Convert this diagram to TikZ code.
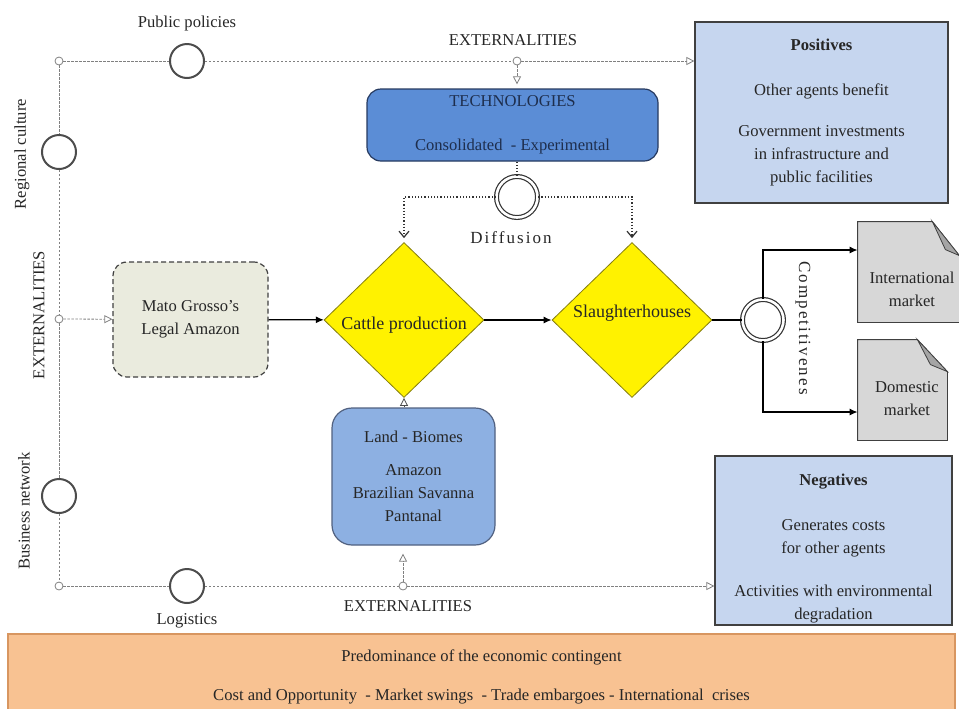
\documentclass[tikz,border=0pt]{standalone}
\usepackage{fontspec}
\setmainfont{Liberation Serif}
\usepackage{tikz}
\usetikzlibrary{shapes.geometric}
\usetikzlibrary{arrows.meta}
\definecolor{techblue}{RGB}{91,141,214}
\definecolor{techborder}{RGB}{38,58,96}
\definecolor{landblue}{RGB}{141,176,226}
\definecolor{panelblue}{RGB}{198,214,239}
\definecolor{matogray}{RGB}{234,235,222}
\definecolor{docgray}{RGB}{215,215,215}
\definecolor{foldgray}{RGB}{165,165,165}
\definecolor{contorange}{RGB}{248,194,146}
\definecolor{contborder}{RGB}{216,150,96}
\tikzstyle{junction}=[circle, draw=gray, fill=white, inner sep=0pt, minimum size=4pt]
\tikzstyle{actor}=[circle, draw=black!70, line width=1pt, fill=white, inner sep=0pt, minimum size=17pt]
\tikzstyle{gate}=[circle, draw=black!80, line width=0.6pt, double, double distance=1.3pt, fill=white, inner sep=0pt, minimum size=20.5pt]
\tikzstyle{decision}=[diamond, draw=olive!90!black, fill=yellow, inner sep=0pt, minimum width=80pt, minimum height=77.5pt, font=\fontsize{9}{11}\selectfont]
\tikzstyle{rbox}=[rectangle, rounded corners=7pt, draw=black!75, semithick, align=center]
\tikzstyle{panel}=[rectangle, draw=black!75, semithick, fill=panelblue, align=center]
\tikzstyle{doc}=[rectangle, inner sep=0pt]
\tikzstyle{extline}=[gray, dash pattern=on 1.2pt off 0.8pt]
\tikzstyle{extarrow}=[extline, -{Triangle[open, length=4pt, width=4pt]}]
\tikzstyle{diffline}=[black!80, densely dotted, semithick, -{Straight Barb[length=3pt, width=5pt]}]
\tikzstyle{flow}=[black, semithick, -{Latex[length=4pt, width=3.5pt]}]
\tikzstyle{spaced}=[font=\fontsize{8.5}{11}\selectfont\addfontfeature{LetterSpace=12}]

\begin{document}
\begin{tikzpicture}[x=0.5pt, y=-0.5pt, font=\fontsize{8.3}{11.5}\selectfont, text=black!85]
        \useasboundingbox (0,0) rectangle (959,708);

        % Puntos de union
        \foreach \j/\x/\y in {nw/59/61, w/59/319, sw/59/586, n/517/61, s/403/586}
            \node[junction] (\j) at (\x,\y) {};

        % Actores
        \foreach \a/\x/\y in {policy/187/61, culture/59/152, business/59/496, logistics/187/586}
            \node[actor] (\a) at (\x,\y) {};

        % Textos
        \node (policylbl) at (187,24) {Public policies};
        \node (logisticslbl) at (187,621) {Logistics};
        \node[rotate=90] (culturelbl) at (22,154) {Regional culture};
        \node[rotate=90] (businesslbl) at (24,511) {Business network};
        \node[rotate=90] (extwest) at (39,315) {EXTERNALITIES};
        \node (extnorth) at (513,40) {EXTERNALITIES};
        \node (extsouth) at (408,606) {EXTERNALITIES};

        % Cajas
        \node[rbox, fill=techblue, draw=techborder, text=techborder!80!black, minimum width=145.5pt, minimum height=36pt] (tech) at (512.5,125) {TECHNOLOGIES\\[10.5pt]Consolidated\ \ - Experimental};
        \node[rbox, fill=matogray, dash pattern=on 2.5pt off 1.5pt, minimum width=77.5pt, minimum height=57.5pt] (mato) at (190.5,319.5) {Mato Grosso's\\Legal Amazon};
        \node[rbox, fill=landblue, draw=techborder!80, rounded corners=10pt, minimum width=81.5pt, minimum height=68.5pt] (land) at (413.5,476.5) {Land - Biomes\\[5pt]Amazon\\Brazilian Savanna\\Pantanal};

        \node[decision] (cattle) at (404,320) {\raisebox{-4.5pt}[0pt][0pt]{Cattle production}};
        \node[decision] (slaughter) at (632,320) {\raisebox{1.5pt}[0pt][0pt]{Slaughterhouses}};

        \node[gate] (diffusion) at (517,197) {};
        \node[spaced] (diffusionlbl) at (511,238) {Diffusion};
        \node[gate] (compet) at (763,320) {};
        \node[spaced, rotate=-90] (competlbl) at (803,328) {Competitivenes};

        % Paneles
        \node[panel, minimum width=126.5pt, minimum height=90.5pt] (pos) at (821.5,112.5) {\textbf{Positives}\\[11pt]Other agents benefit\\[9pt]Government investments\\in infrastructure and\\public facilities};
        \node[panel, minimum width=118.5pt, minimum height=84.5pt] (neg) at (833.5,540.5) {};
        \node[align=center] (negtxt) at (833.5,549) {\textbf{Negatives}\\[11pt]Generates costs\\for other agents\\[10pt]Activities with environmental\\degradation};
        \node[rectangle, draw=contborder, fill=contorange, semithick, minimum width=473.5pt, minimum height=43pt, align=center] (cont) at (481.5,677) {Predominance of the economic contingent\\[8pt]Cost and Opportunity\ \ - Market swings\ \ - Trade embargoes - International\ \ crises};

        % Mercados
        \node[doc, minimum width=50.5pt, minimum height=50pt] (intl) at (908.5,272) {};
        \node[doc, minimum width=44.5pt, minimum height=50pt] (dom) at (902.5,390) {};
        \filldraw[draw=black!75, fill=docgray] (intl.south west) -- (intl.north west) -- ([xshift=-13.5pt]intl.north east) -- ([yshift=-17pt]intl.north east) -- (intl.south east) -- cycle;
        \filldraw[draw=black!75, fill=foldgray] ([xshift=-13.5pt]intl.north east) -- ([xshift=-7pt, yshift=-14pt]intl.north east) -- ([yshift=-17pt]intl.north east) -- cycle;
        \filldraw[draw=black!75, fill=docgray] (dom.south west) -- (dom.north west) -- ([xshift=-15pt]dom.north east) -- ([yshift=-16pt]dom.north east) -- (dom.south east) -- cycle;
        \filldraw[draw=black!75, fill=foldgray] ([xshift=-15pt]dom.north east) -- ([xshift=-8.5pt, yshift=-12.5pt]dom.north east) -- ([yshift=-16pt]dom.north east) -- cycle;
        \node[align=center] (intltxt) at (912,289) {International\\market};
        \node[align=center] (domtxt) at (907,399) {Domestic\\market};

        % Externalidades
        \draw[extline] (nw) -- (policy);
        \draw[extline] (policy) -- (n);
        \draw[extarrow] (n) -- (n -| pos.west);
        \draw[extline] (nw) -- (culture) -- (w) -- (business) -- (sw);
        \draw[extarrow] (w) -- (mato);
        \draw[extarrow, shorten >=2pt] (n) -- (n |- tech.north);
        \draw[extline] (sw) -- (logistics);
        \draw[extline] (logistics) -- (s);
        \draw[extarrow] (s) -- (s -| neg.west);
        \draw[extarrow, shorten >=4pt] (s) -- (s |- land.south);
        \draw[black!70, -{Triangle[open, length=4pt, width=4pt]}] (cattle.south |- land.north) -- (cattle.south);

        % Flujo
        \draw[flow] (mato) -- (cattle);
        \draw[flow] (cattle) -- (slaughter);
        \draw[black, semithick] (slaughter) -- (compet);
        \draw[flow] (compet.north) |- ([yshift=11pt]intl.west);
        \draw[flow] (compet.south) |- ([yshift=-11pt]dom.west);

        % Difusion
        \draw[black!80, densely dotted, semithick] (diffusion |- tech.south) -- (diffusion);
        \draw[diffline, shorten >=2pt] (diffusion.west) -| (cattle.north);
        \draw[diffline, shorten >=2pt] (diffusion.east) -| (slaughter.north);
    \end{tikzpicture}
\end{document}
